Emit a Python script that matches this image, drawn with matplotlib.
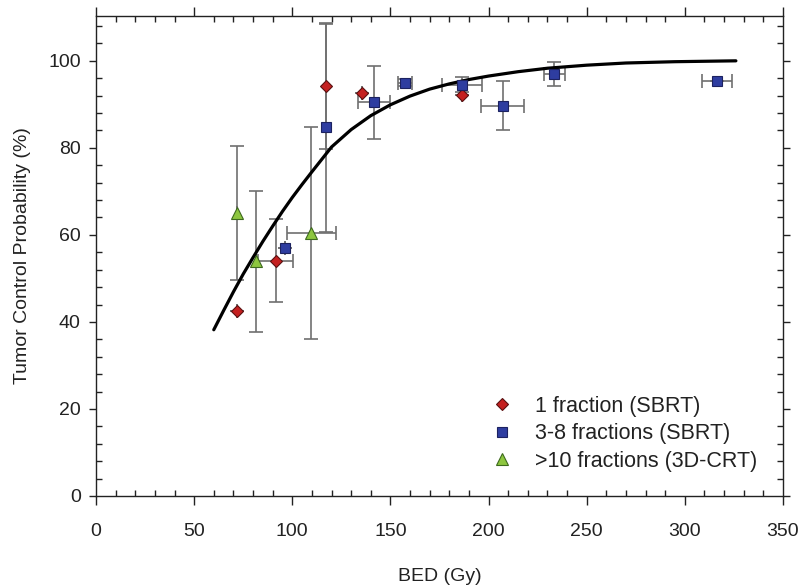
import matplotlib
matplotlib.use("Agg")
import matplotlib.pyplot as plt
from matplotlib.ticker import MultipleLocator

plt.rcParams['font.family'] = ['Liberation Sans', 'DejaVu Sans']

# ---- data ----
# 1 fraction (SBRT)
one_x = [72.0, 91.5, 117.2, 135.7, 186.3]
one_y = [42.6, 54.1, 94.1, 92.6, 92.2]
one_xerr = [0, 9.0, 0, 0, 0]
one_yerr = [0, 9.6, 14.4, 0, 0]

# 3-8 fractions (SBRT)
multi_x = [96.3, 117.2, 141.6, 157.4, 186.3, 207.2, 233.5, 316.2]
multi_y = [56.9, 84.7, 90.5, 95.0, 94.5, 89.7, 96.9, 95.3]
multi_xerr = [0, 0, 8.0, 3.6, 10.2, 11.0, 5.2, 7.7]
multi_yerr = [0, 24.0, 8.4, 0.8, 1.7, 5.6, 2.8, 0]

# >10 fractions (3D-CRT)
crt_x = [72.0, 81.3, 109.6]
crt_y = [65.0, 53.9, 60.4]
crt_xerr = [0, 0, 12.5]
crt_yerr = [15.4, 16.3, 24.4]

# fitted TCP curve
curve_x = [60, 65, 70, 75, 80, 85, 90, 95, 100, 105, 110, 120, 130, 140, 150,
           160, 170, 180, 190, 200, 215, 230, 250, 270, 295, 326]
curve_y = [38.2, 42.6, 46.9, 51.0, 54.8, 58.5, 62.0, 65.4, 68.6, 71.6, 74.5,
           80.2, 84.2, 87.4, 89.9, 91.9, 93.5, 94.7, 95.7, 96.5, 97.5, 98.3,
           99.0, 99.5, 99.8, 100.0]

labels = ["1 fraction (SBRT)", "3-8 fractions (SBRT)", ">10 fractions (3D-CRT)"]

fig = plt.figure(figsize=(8.02, 5.88), dpi=100)
ax = fig.add_axes([96/802, 1-496/588, (783-96)/802, (496-16)/588])

ecol = '#707070'
ekw = dict(fmt='none', ecolor=ecol, elinewidth=1.2, capsize=5, capthick=1.2, zorder=2)
ax.errorbar(one_x, one_y, xerr=one_xerr, yerr=one_yerr, **ekw)
ax.errorbar(multi_x, multi_y, xerr=multi_xerr, yerr=multi_yerr, **ekw)
ax.errorbar(crt_x, crt_y, xerr=crt_xerr, yerr=crt_yerr, **ekw)

ax.plot(curve_x, curve_y, color='black', lw=2.3, zorder=3, solid_capstyle='round')

h1, = ax.plot(one_x, one_y, 'D', ms=6.6, mfc='#c42020', mec='#5a1010', mew=0.8,
              ls='none', zorder=4)
h2, = ax.plot(multi_x, multi_y, 's', ms=7.6, mfc='#2e3da0', mec='#1c2260', mew=0.8,
              ls='none', zorder=4)
h3, = ax.plot(crt_x, crt_y, '^', ms=8.2, mfc='#8dc63f', mec='#3d6a1e', mew=0.8,
              ls='none', zorder=4)

ax.set_xlim(0, 350)
ax.set_ylim(0, 110.3)
ax.xaxis.set_major_locator(MultipleLocator(50))
ax.xaxis.set_minor_locator(MultipleLocator(10))
ax.yaxis.set_major_locator(MultipleLocator(20))
ax.yaxis.set_minor_locator(MultipleLocator(4))

ax.tick_params(which='major', direction='out', length=6.5, width=1.0,
               top=True, right=True, labelsize=14, colors='#222222')
ax.tick_params(axis='x', which='major', pad=13)
ax.tick_params(axis='y', which='major', pad=6, length=5)
ax.tick_params(which='minor', direction='in', length=4, width=1.0,
               top=True, right=True, colors='#222222')
for s in ax.spines.values():
    s.set_color('#222222')
    s.set_linewidth(1.0)

ax.set_xlabel("BED (Gy)", fontsize=14, labelpad=20, color='#222222')
ax.set_ylabel("Tumor Control Probability (%)", fontsize=14, labelpad=12, color='#222222')

leg = ax.legend([h1, h2, h3], labels, loc='lower right', frameon=False,
                fontsize=15.5, handletextpad=0.9, labelspacing=0.3,
                bbox_to_anchor=(0.99, 0.01), handlelength=1.2)
for t in leg.get_texts():
    t.set_color('#222222')

fig.savefig("out.png", dpi=100)
